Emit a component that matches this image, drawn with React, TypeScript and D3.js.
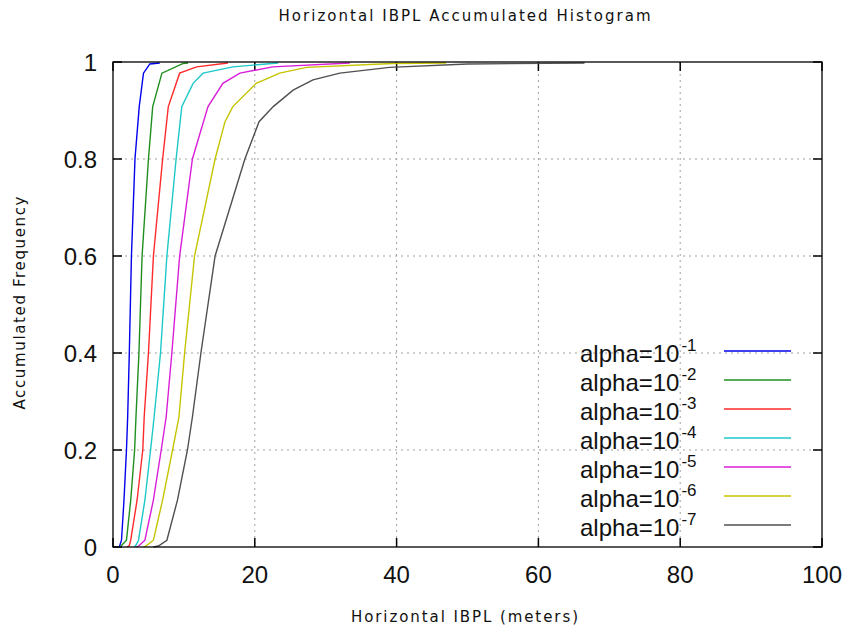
import React from "react";
import * as d3 from "d3";

const W = 843;
const H = 627;

const xTicks = [0, 20, 40, 60, 80, 100];
const yTicks = [0, 0.2, 0.4, 0.6, 0.8, 1];
const yTickLabels = ["0", "0.2", "0.4", "0.6", "0.8", "1"];

const seriesNames = ["-1", "-2", "-3", "-4", "-5", "-6", "-7"];
const seriesColors = ["#0000ee", "#1f8f1f", "#ff2a2a", "#1ec8c8", "#d81ed8", "#c4c400", "#505050"];

const blueX = [0.9, 1.0, 1.2, 1.55, 1.9, 2.07, 2.3, 2.6, 3.1, 3.7, 4.3, 5.2, 6.6];
const blueY = [0, 0.005, 0.014, 0.097, 0.2, 0.268, 0.4, 0.6, 0.8, 0.908, 0.977, 0.996, 0.998];
const greenX = [1.0, 1.2, 1.9, 2.5, 3.05, 3.24, 3.66, 4.1, 5.0, 5.6, 6.9, 9.9, 10.6];
const greenY = [0, 0.003, 0.014, 0.097, 0.2, 0.268, 0.4, 0.6, 0.8, 0.908, 0.977, 0.997, 0.998];
const redX = [2.0, 2.3, 2.5, 3.4, 4.2, 4.4, 5.0, 5.7, 7.0, 7.8, 9.4, 11.8, 16.2];
const redY = [0, 0.003, 0.014, 0.097, 0.2, 0.268, 0.4, 0.6, 0.8, 0.908, 0.977, 0.99, 0.998];
const cyanX = [3.0, 3.2, 3.6, 4.5, 5.3, 5.8, 6.7, 7.6, 8.9, 9.7, 11.3, 12.7, 16.9, 23.3];
const cyanY = [0, 0.003, 0.014, 0.097, 0.2, 0.268, 0.4, 0.6, 0.8, 0.908, 0.956, 0.977, 0.99, 0.998];
const magentaX = [3.3, 3.7, 4.5, 5.7, 6.8, 7.5, 8.3, 9.4, 11.2, 13.4, 15.5, 17.9, 22.5, 33.4];
const magentaY = [0, 0.003, 0.014, 0.097, 0.2, 0.268, 0.4, 0.6, 0.8, 0.908, 0.956, 0.977, 0.99, 0.998];
const yellowX = [4.3, 4.7, 5.7, 7.0, 8.4, 9.3, 10.1, 11.5, 14.4, 15.8, 16.9, 20.2, 23.5, 27.3, 39.4, 47];
const yellowY = [0, 0.003, 0.014, 0.097, 0.2, 0.268, 0.4, 0.6, 0.8, 0.877, 0.908, 0.956, 0.977, 0.989, 0.997, 0.998];
const grayX = [5.7, 6.4, 7.6, 9.1, 10.5, 11.2, 12.4, 14.4, 18.6, 20.6, 22.6, 25.4, 28.2, 32, 39, 50, 66.5];
const grayY = [0, 0.002, 0.014, 0.097, 0.2, 0.268, 0.4, 0.6, 0.8, 0.877, 0.908, 0.942, 0.963, 0.977, 0.989, 0.996, 0.998];

const seriesXs = [blueX, greenX, redX, cyanX, magentaX, yellowX, grayX];
const seriesYs = [blueY, greenY, redY, cyanY, magentaY, yellowY, grayY];

const left = 113;
const right = 822;
const top = 62;
const bottom = 547;

export default function App() {
  const x = d3.scaleLinear().domain([0, 100]).range([left, right]);
  const y = d3.scaleLinear().domain([0, 1]).range([bottom, top]);
  const line = d3
    .line<[number, number]>()
    .x((d) => x(d[0]))
    .y((d) => y(d[1]));

  const tickFont = "'Liberation Sans', Arial, sans-serif";
  const labelFont = "'DejaVu Sans', sans-serif";
  const tl = 9;

  return (
    <svg
      width={W}
      height={H}
      style={{ position: "absolute", left: 0, top: 0, background: "#fff" }}
    >
      <rect x={0} y={0} width={W} height={H} fill="#fff" />
      {/* grid */}
      {xTicks.slice(1, -1).map((t) => (
        <line key={"gx" + t} x1={x(t)} x2={x(t)} y1={top} y2={bottom} stroke="#a0a0a0" strokeDasharray="2,4" strokeWidth={1} />
      ))}
      {yTicks.slice(1, -1).map((t) => (
        <line key={"gy" + t} x1={left} x2={right} y1={y(t)} y2={y(t)} stroke="#a0a0a0" strokeDasharray="2,4" strokeWidth={1} />
      ))}
      {/* ticks */}
      {xTicks.map((t) => (
        <g key={"tx" + t}>
          <line x1={x(t)} x2={x(t)} y1={bottom} y2={bottom - tl} stroke="#000" strokeWidth={1.5} />
          <line x1={x(t)} x2={x(t)} y1={top} y2={top + tl} stroke="#000" strokeWidth={1.5} />
          <text x={x(t)} y={583} textAnchor="middle" fontFamily={tickFont} fontSize={24} fill="#111">
            {t}
          </text>
        </g>
      ))}
      {yTicks.map((t, i) => (
        <g key={"ty" + t}>
          <line x1={left} x2={left + tl} y1={y(t)} y2={y(t)} stroke="#000" strokeWidth={1.5} />
          <line x1={right} x2={right - tl} y1={y(t)} y2={y(t)} stroke="#000" strokeWidth={1.5} />
          <text x={97} y={y(t) + 8.5} textAnchor="end" fontFamily={tickFont} fontSize={24} fill="#111">
            {yTickLabels[i]}
          </text>
        </g>
      ))}
      {/* curves */}
      {seriesXs.map((xs, i) => (
        <path
          key={"s" + i}
          d={line(xs.map((v, j) => [v, seriesYs[i][j]] as [number, number])) || ""}
          fill="none"
          stroke={seriesColors[i]}
          strokeWidth={1.4}
        />
      ))}
      {/* frame */}
      <rect x={left} y={top} width={right - left} height={bottom - top} fill="none" stroke="#000" strokeWidth={1.3} />
      {/* legend */}
      {seriesNames.map((n, i) => {
        const ly = 351 + i * 29;
        return (
          <g key={"l" + i}>
            <text x={580} y={ly + 11} fontFamily={tickFont} fontSize={24} fill="#111">
              alpha=10
              <tspan dx={2} dy={-11} fontSize={17}>{n}</tspan>
            </text>
            <line x1={724} x2={791} y1={ly} y2={ly} stroke={seriesColors[i]} strokeWidth={1.4} />
          </g>
        );
      })}
      {/* title & labels */}
      <text x={464.5} y={21} textAnchor="middle" fontFamily={labelFont} fontSize={15} fill="#111" textLength={372} lengthAdjust="spacing">
        Horizontal IBPL Accumulated Histogram
      </text>
      <text x={464.5} y={622} textAnchor="middle" fontFamily={labelFont} fontSize={15} fill="#111" textLength={227} lengthAdjust="spacing">
        Horizontal IBPL (meters)
      </text>
      <text
        transform={`translate(25,303) rotate(-90)`}
        textAnchor="middle"
        fontFamily={labelFont}
        fontSize={15}
        fill="#111"
        textLength={213}
        lengthAdjust="spacing"
      >
        Accumulated Frequency
      </text>
    </svg>
  );
}
